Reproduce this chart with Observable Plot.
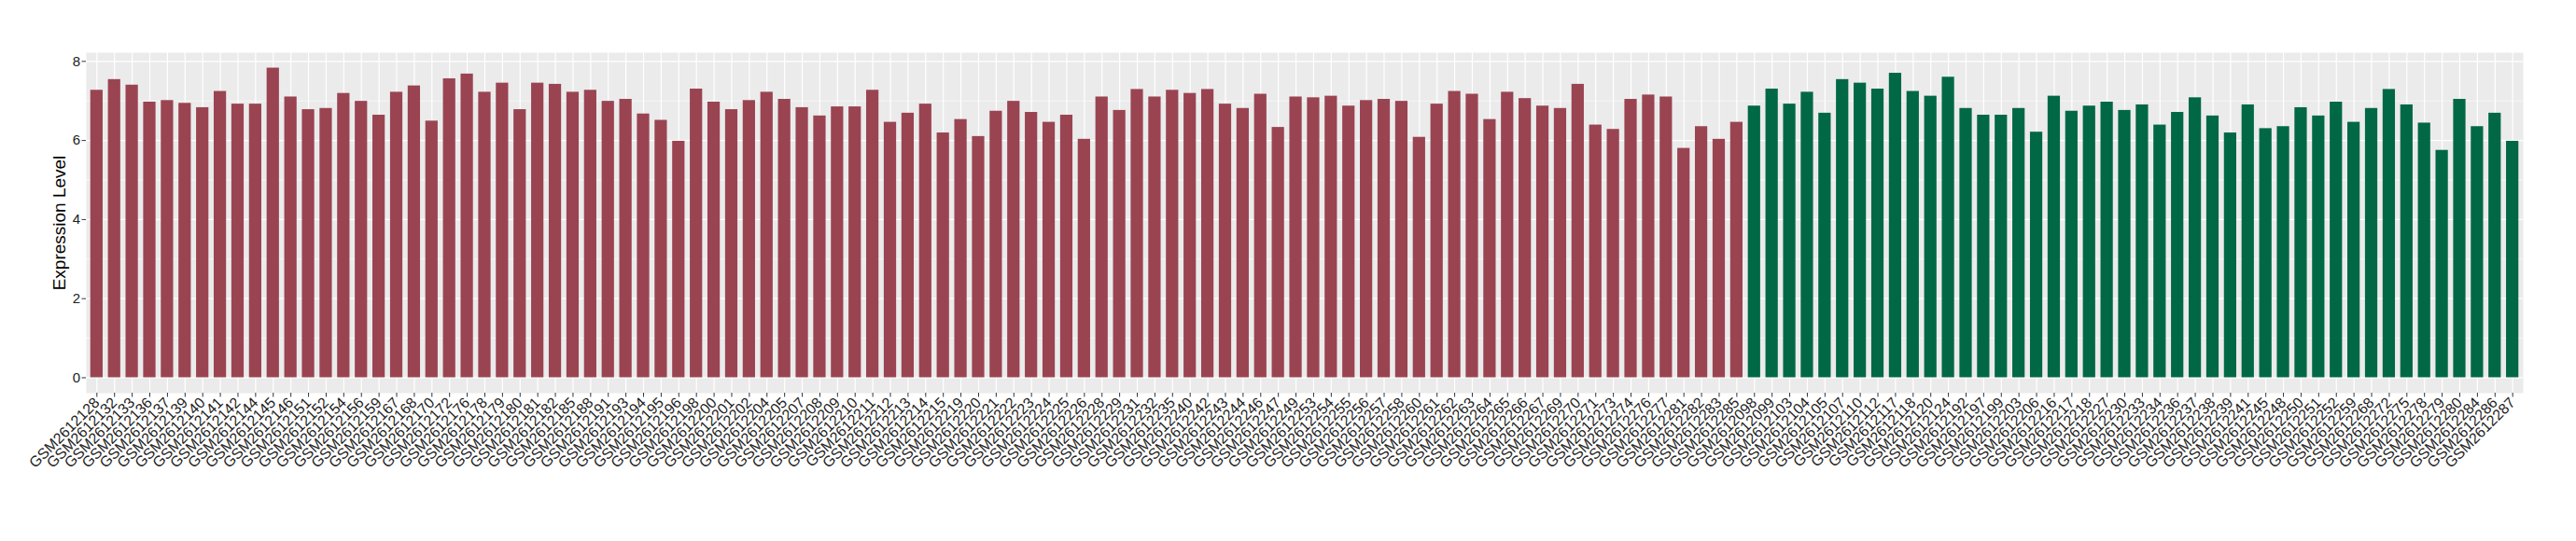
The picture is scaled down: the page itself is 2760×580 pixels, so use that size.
<!DOCTYPE html>
<html>
<head>
<meta charset="utf-8">
<script src="https://cdn.jsdelivr.net/npm/d3@7"></script>
<script src="https://cdn.jsdelivr.net/npm/@observablehq/plot@0.6"></script>
<style>
  html, body { margin: 0; padding: 0; background: #fff; }
  #chart svg { display: block; }
  g[aria-label="y-axis label"] text { font-size: 19px; fill: #000; }
</style>
</head>
<body>
<div id="chart"></div>
<script>
const redIds = ["GSM2612128","GSM2612132","GSM2612133","GSM2612136","GSM2612137","GSM2612139","GSM2612140","GSM2612141","GSM2612142","GSM2612144","GSM2612145","GSM2612146","GSM2612151","GSM2612152","GSM2612154","GSM2612156","GSM2612159","GSM2612167","GSM2612168","GSM2612170","GSM2612172","GSM2612176","GSM2612178","GSM2612179","GSM2612180","GSM2612181","GSM2612182","GSM2612185","GSM2612188","GSM2612191","GSM2612193","GSM2612194","GSM2612195","GSM2612196","GSM2612198","GSM2612200","GSM2612201","GSM2612202","GSM2612204","GSM2612205","GSM2612207","GSM2612208","GSM2612209","GSM2612210","GSM2612211","GSM2612212","GSM2612213","GSM2612214","GSM2612215","GSM2612219","GSM2612220","GSM2612221","GSM2612222","GSM2612223","GSM2612224","GSM2612225","GSM2612226","GSM2612228","GSM2612229","GSM2612231","GSM2612232","GSM2612235","GSM2612240","GSM2612242","GSM2612243","GSM2612244","GSM2612246","GSM2612247","GSM2612249","GSM2612253","GSM2612254","GSM2612255","GSM2612256","GSM2612257","GSM2612258","GSM2612260","GSM2612261","GSM2612262","GSM2612263","GSM2612264","GSM2612265","GSM2612266","GSM2612267","GSM2612269","GSM2612270","GSM2612271","GSM2612273","GSM2612274","GSM2612276","GSM2612277","GSM2612281","GSM2612282","GSM2612283","GSM2612285"];
const redValues = [7.27,7.54,7.40,6.97,7.01,6.94,6.83,7.24,6.92,6.92,7.83,7.10,6.78,6.81,7.19,6.99,6.64,7.22,7.38,6.49,7.56,7.68,7.22,7.45,6.78,7.45,7.42,7.22,7.27,6.99,7.04,6.67,6.51,5.98,7.30,6.97,6.78,7.01,7.22,7.04,6.83,6.62,6.85,6.85,7.27,6.46,6.69,6.92,6.19,6.53,6.10,6.74,6.99,6.71,6.46,6.64,6.03,7.10,6.76,7.29,7.10,7.27,7.19,7.29,6.92,6.81,7.17,6.33,7.10,7.08,7.12,6.87,7.01,7.04,6.99,6.08,6.92,7.24,7.17,6.53,7.22,7.06,6.87,6.81,7.42,6.39,6.28,7.04,7.15,7.10,5.80,6.35,6.03,6.46];
const greenIds = ["GSM2612098","GSM2612099","GSM2612103","GSM2612104","GSM2612105","GSM2612107","GSM2612110","GSM2612112","GSM2612117","GSM2612118","GSM2612120","GSM2612124","GSM2612192","GSM2612197","GSM2612199","GSM2612203","GSM2612206","GSM2612216","GSM2612217","GSM2612218","GSM2612227","GSM2612230","GSM2612233","GSM2612234","GSM2612236","GSM2612237","GSM2612238","GSM2612239","GSM2612241","GSM2612245","GSM2612248","GSM2612250","GSM2612251","GSM2612252","GSM2612259","GSM2612268","GSM2612272","GSM2612275","GSM2612278","GSM2612279","GSM2612280","GSM2612284","GSM2612286","GSM2612287"];
const greenValues = [6.87,7.30,6.92,7.22,6.69,7.54,7.45,7.30,7.70,7.24,7.12,7.60,6.81,6.64,6.64,6.81,6.21,7.12,6.74,6.87,6.97,6.76,6.90,6.39,6.71,7.08,6.62,6.19,6.90,6.30,6.35,6.83,6.62,6.97,6.46,6.81,7.29,6.90,6.44,5.75,7.04,6.35,6.69,5.98];
const groups = ["groupA", "groupB"];
const groupColors = ["#9A4452", "#016846"];
const yTicks = [0, 2, 4, 6, 8];
const yMinor = [1, 3, 5, 7];

const data = [
  ...redIds.map((id, i) => ({id, value: redValues[i], group: groups[0]})),
  ...greenIds.map((id, i) => ({id, value: greenValues[i], group: groups[1]}))
];
const order = data.map(d => d.id);

const chart = Plot.plot({
  width: 2760,
  height: 580,
  marginLeft: 92,
  marginRight: 57,
  marginTop: 56,
  marginBottom: 159,
  style: {fontFamily: "'Liberation Sans', Arial, sans-serif", background: "#fff"},
  x: {domain: order, paddingInner: 0.3, paddingOuter: 0.25, label: null},
  y: {domain: [-0.39, 8.22], label: "Expression Level"},
  color: {type: "ordinal", domain: groups, range: groupColors, legend: false},
  marks: [
    Plot.frame({fill: "#EBEBEB", stroke: null}),
    Plot.ruleY(yMinor, {stroke: "#fff", strokeWidth: 0.6}),
    Plot.ruleY(yTicks, {stroke: "#fff", strokeWidth: 1.2}),
    Plot.gridX({stroke: "#fff", strokeOpacity: 1, strokeWidth: 1.2}),
    Plot.barY(data, {x: "id", y: "value", fill: "group"}),
    Plot.axisY({ticks: yTicks, tickSize: 4.5, tickPadding: 2, fontSize: 15, color: "#222", stroke: "#333",
      label: "Expression Level", labelAnchor: "center", labelArrow: "none", labelOffset: 36}),
    Plot.axisX({tickRotate: -45, tickSize: 4.5, tickPadding: 3, fontSize: 16, color: "#222", stroke: "#333", label: null})
  ]
});
document.getElementById("chart").appendChild(chart);
</script>
</body>
</html>
